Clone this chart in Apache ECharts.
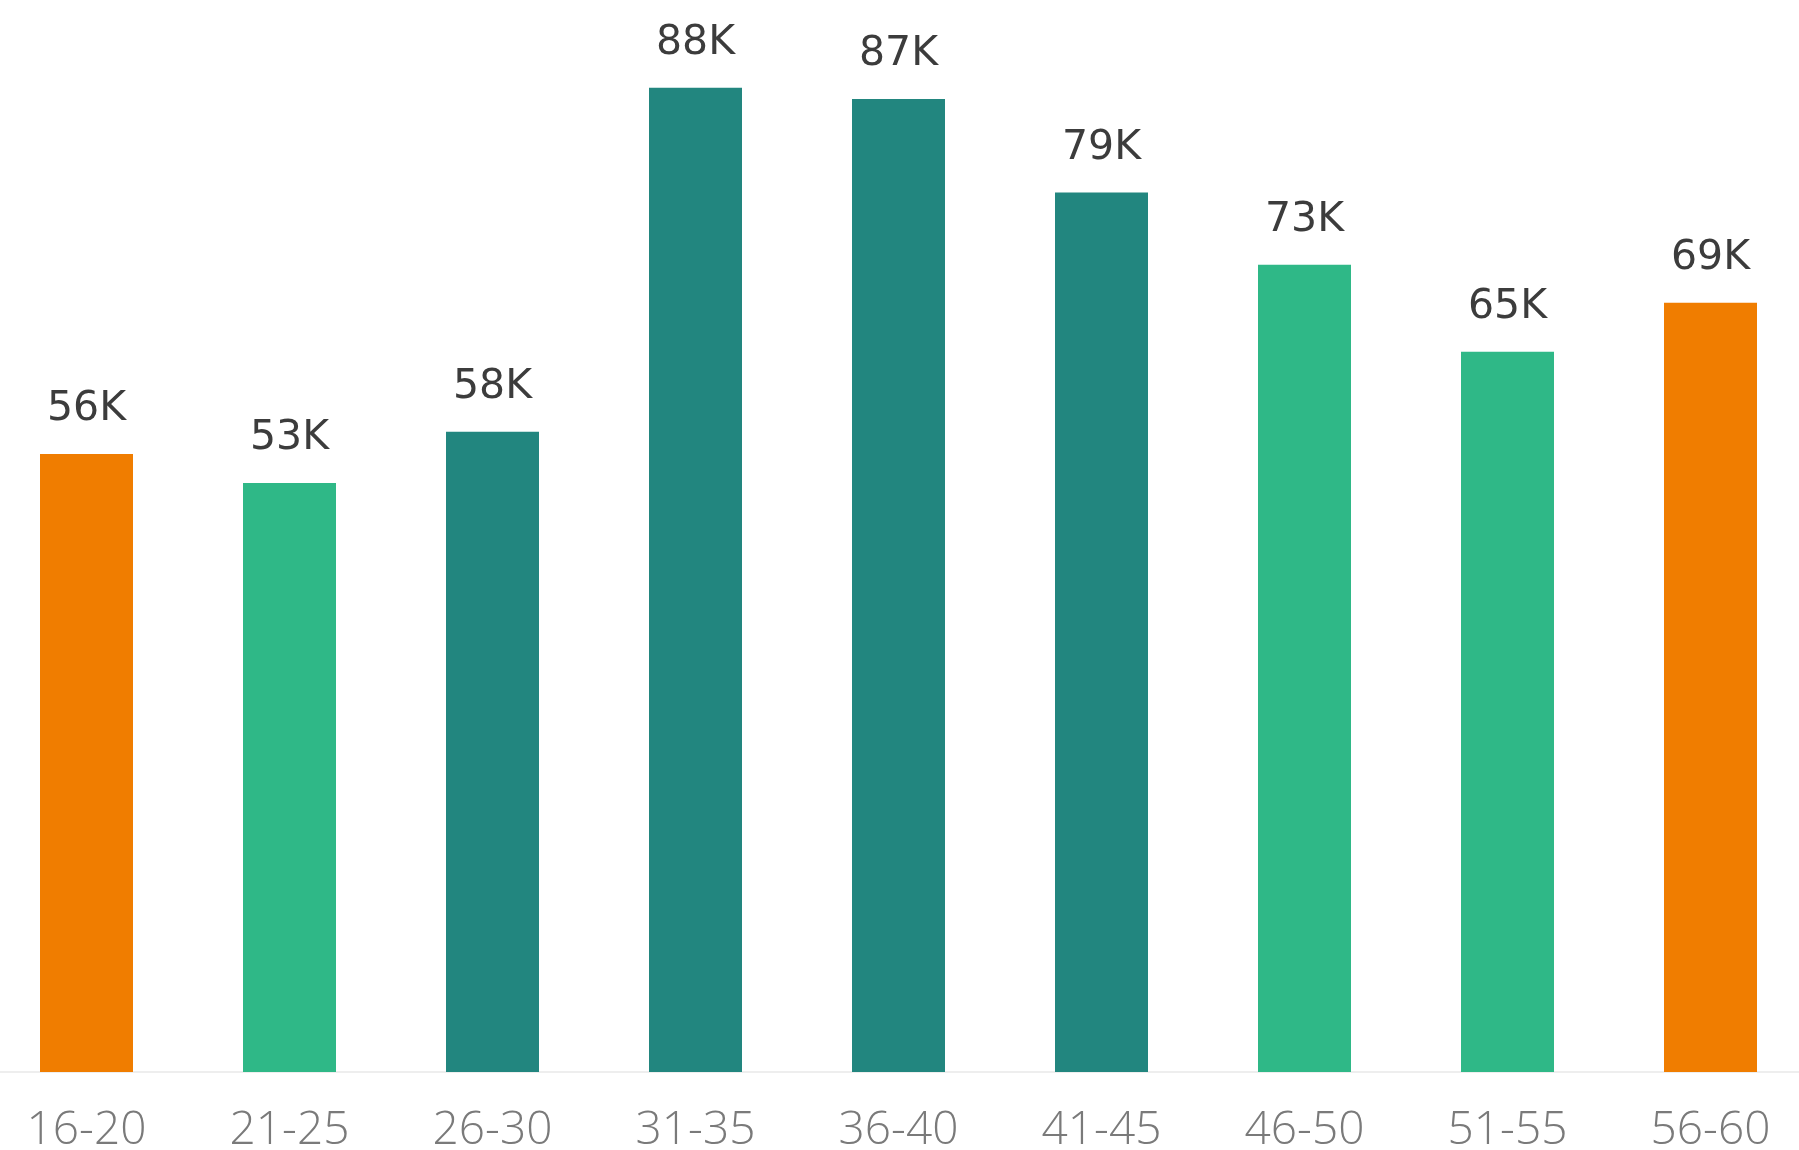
<!DOCTYPE html>
<html>
<head>
<meta charset="utf-8">
<script src="https://cdn.jsdelivr.net/npm/echarts@6/dist/echarts.min.js"></script>
<style>
html,body{margin:0;padding:0;background:#fff;overflow:hidden;width:1799px;height:1150px;}
#chart{position:absolute;left:-15px;top:0;width:1827px;height:1150px;}
</style>
</head>
<body>
<div id="chart"></div>
<script>
const categories = ['16-20','21-25','26-30','31-35','36-40','41-45','46-50','51-55','56-60'];
const values = [55.5, 52.9, 57.5, 88.4, 87.4, 79.0, 72.5, 64.7, 69.1];
const barColors = ['#F07D00','#2FB887','#22867F','#22867F','#22867F','#22867F','#2FB887','#2FB887','#F07D00'];

const chart = echarts.init(document.getElementById('chart'));
chart.setOption({
  animation: false,
  backgroundColor: '#ffffff',
  grid: { left: 0, right: 0, top: 70, bottom: 78, containLabel: false, outerBoundsMode: 'none' },
  xAxis: {
    type: 'category',
    data: categories,
    axisLine: { show: true, lineStyle: { color: '#eeeeee', width: 2 } },
    axisTick: { show: false },
    axisLabel: { color: '#7a7a7a', fontSize: 46, fontFamily: 'Open Sans', fontWeight: 300, margin: 36 }
  },
  yAxis: {
    type: 'value', min: 0, max: 90, show: false,
    splitLine: { show: false }
  },
  series: [{
    type: 'bar',
    barWidth: 93,
    data: values.map((v, i) => ({ value: v, itemStyle: { color: barColors[i] } })),
    label: {
      show: true, position: 'top', distance: 24,
      color: '#3c3c3c', fontSize: 41, fontFamily: 'DejaVu Sans',
      formatter: p => Math.round(p.value) + 'K'
    }
  }]
});
</script>
</body>
</html>
